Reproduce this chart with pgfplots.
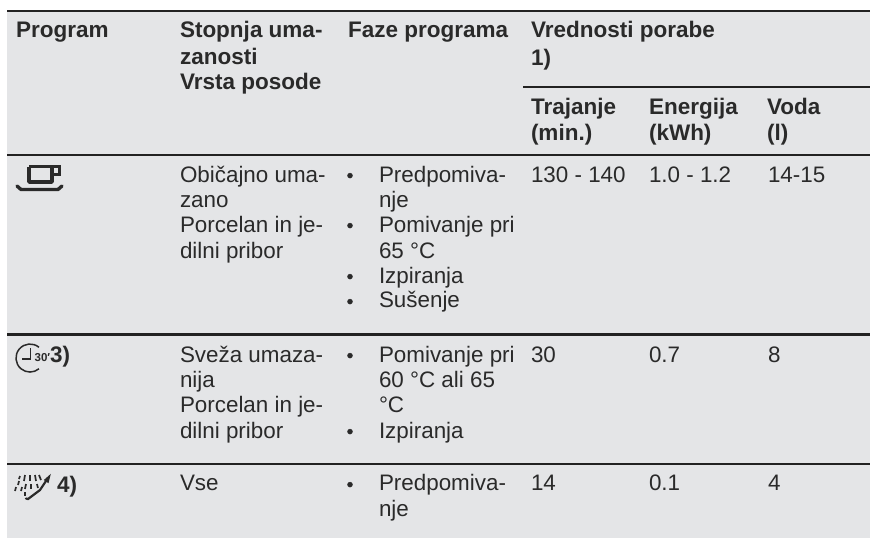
\documentclass[border=0pt]{standalone}
\usepackage{fontspec}
\setmainfont{Liberation Sans}
\usepackage{pgfplots}
\pgfplotsset{compat=1.18}
\definecolor{bg}{HTML}{E4E5E7}
\definecolor{tc}{HTML}{2A2A2A}
\definecolor{rc}{HTML}{222222}
\newcommand{\T}[3]{\node[anchor=base west,inner sep=0pt,outer sep=0pt,yshift=-0.8bp,text=tc,font=\fontsize{22.4bp}{26bp}\selectfont] at (axis cs:#1,#2) {#3};}
\newcommand{\B}[3]{\node[anchor=base west,inner sep=0pt,outer sep=0pt,yshift=-0.8bp,text=tc,font=\fontsize{22.5bp}{26bp}\selectfont\bfseries] at (axis cs:#1,#2) {#3};}
\newcommand{\Bu}[1]{\addplot[only marks,mark=*,mark size=2.5bp,color=tc,mark options={draw=tc,fill=tc}] coordinates {(350,#1.6)};}
\begin{document}
\begin{tikzpicture}[x=1bp,y=1bp]
\begin{axis}[scale only axis,width=870bp,height=538bp,xmin=0,xmax=870,ymin=0,ymax=538,y dir=reverse,hide axis,clip=true]
% page and panel
\addplot[draw=none,fill=white] coordinates {(0,0)(870,0)(870,538)(0,538)} -- cycle;
\addplot[draw=none,fill=bg] coordinates {(7,11)(870,11)(870,537.5)(7,537.5)} -- cycle;
% rules
\addplot[rc,line width=2.8bp] coordinates {(7,11)(870,11)};
\addplot[rc,line width=1.8bp] coordinates {(523,87)(870,87)};
\addplot[rc,line width=2.4bp] coordinates {(7,155)(870,155)};
\addplot[rc,line width=2.4bp] coordinates {(7,334.5)(870,334.5)};
\addplot[rc,line width=1.8bp] coordinates {(7,464)(870,464)};
% header
\B{16}{37}{Program}
\B{180}{37}{Stopnja uma-}
\B{180}{64}{zanosti}
\B{180}{89}{Vrsta posode}
\B{348}{37}{Faze programa}
\B{531}{37}{Vrednosti porabe}
\B{531}{65}{1)}
\B{531}{114}{Trajanje}
\B{531}{140}{(min.)}
\B{649}{114}{Energija}
\B{649}{140}{(kWh)}
\B{767}{114}{Voda}
\B{767}{140}{(l)}
% row 1
\T{180}{181.5}{Običajno uma-}
\T{180}{207}{zano}
\T{180}{232}{Porcelan in je-}
\T{180}{258}{dilni pribor}
\T{379}{181.5}{Predpomiva-}
\T{379}{207}{nje}
\T{379}{232}{Pomivanje pri}
\T{379}{258}{65 °C}
\T{379}{283}{Izpiranja}
\T{379}{307}{Sušenje}
\Bu{175}\Bu{225}\Bu{276}\Bu{301}
\T{531}{181.5}{130 - 140}
\T{649}{181.5}{1.0 - 1.2}
\T{768}{181.5}{14-15}
% row 2
\T{180}{362}{Sveža umaza-}
\T{180}{387}{nija}
\T{180}{412}{Porcelan in je-}
\T{180}{438}{dilni pribor}
\T{379}{362}{Pomivanje pri}
\T{379}{387}{60 °C ali 65}
\T{379}{412}{°C}
\T{379}{438}{Izpiranja}
\Bu{355}\Bu{431}
\T{531}{362}{30}
\T{649}{362}{0.7}
\T{768}{362}{8}
% row 3
\T{180}{490}{Vse}
\T{379}{490}{Predpomiva-}
\T{379}{516}{nje}
\Bu{484}
\T{531}{490}{14}
\T{649}{490}{0.1}
\T{768}{490}{4}
% cup icon
\addplot[tc,line width=3.4bp,line join=round] coordinates {(29,166.5)(52,166.5)(52,182)(29,182)(29,166.5)};
\addplot[tc,line width=3bp] coordinates {(52,166.5)(59,166.5)(59,174.5)(52,174.5)};
\addplot[tc,line width=3.4bp,line cap=round,line join=round] coordinates {(17,186)(21,189.5)(58,189.5)(62,186)};
% clock icon
\draw[tc,line width=1.5bp] (axis cs:39,347.3) arc[start angle=50,end angle=310,radius=14bp];
\addplot[tc,line width=1.6bp] coordinates {(22,359)(30.5,359)(30.5,348)};
\node[anchor=base west,inner sep=0pt,text=tc,font=\fontsize{11.5bp}{12bp}\selectfont\bfseries] at (axis cs:34.5,361.5) {30′};
\B{50}{362}{3)}
% spray icon
\addplot[tc,line width=2.2bp,line cap=round] coordinates {(26,498.5)(28,499)(40,490)(48,478)};
\addplot[tc,line width=1.5bp,fill=tc] coordinates {(45,480)(49.5,476)(48,482)} -- cycle;
\addplot[tc,line width=1.7bp] coordinates {(22,487)(21,491)};
\addplot[tc,line width=1.7bp] coordinates {(19,481)(18,485)};
\addplot[tc,line width=1.7bp] coordinates {(16,487)(15,491)};
\addplot[tc,line width=1.7bp] coordinates {(25,475)(24,481)};
\addplot[tc,line width=1.7bp] coordinates {(26,484)(25,489)};
\addplot[tc,line width=1.7bp] coordinates {(25,492)(25,496)};
\addplot[tc,line width=1.7bp] coordinates {(30,475)(30,481)};
\addplot[tc,line width=1.7bp] coordinates {(31,484)(31,489)};
\addplot[tc,line width=1.7bp] coordinates {(35,475)(36,481)};
\addplot[tc,line width=1.7bp] coordinates {(37,484)(38,488)};
\addplot[tc,line width=1.7bp] coordinates {(39,475)(41,480)};
\addplot[tc,line width=1.7bp] coordinates {(20,476)(19,479)};
\B{57}{492}{4)}
\end{axis}
\end{tikzpicture}
\end{document}
